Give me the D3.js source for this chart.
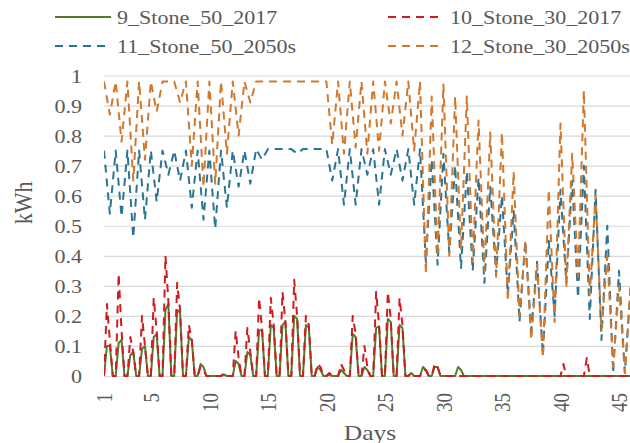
<!DOCTYPE html>
<html>
<head>
<meta charset="utf-8">
<script src="https://cdn.jsdelivr.net/npm/d3@7"></script>
<style>
  html, body { margin: 0; padding: 0; background: #fff; }
  svg text { font-family: "Liberation Serif", "Times New Roman", serif; fill: #595959; }
</style>
</head>
<body>
<div id="chart"></div>
<script>
// Tick labels
const xTickDays = [1, 5, 10, 15, 20, 25, 30, 35, 40, 45];
const yTickValues = [0, 0.1, 0.2, 0.3, 0.4, 0.5, 0.6, 0.7, 0.8, 0.9, 1];
const seriesNames = ["9_Stone_50_2017", "10_Stone_30_2017", "11_Stone_50_2050s", "12_Stone_30_2050s"];

// 2017 series: 4 readings per day (00h, 06h, 12h, 18h)
const stone50_2017 = [
  0, .10, .10, 0,   0, .11, .12, 0,   0, .07, .08, 0,   0, .09, .10, 0,   0, .13, .14, 0,
  0, .22, .24, 0,   0, .22, .21, 0,   0, .13, .12, 0,   0, .04, .03, 0,   0, 0, 0, 0,
  0, .005, 0, 0,    0, .05, .04, 0,   0, .08, .07, 0,   0, .15, .155, 0,  0, .17, .16, 0,
  0, .17, .18, 0,   0, .20, .19, 0,   0, .17, .16, 0,   0, .03, .02, 0,   0, .005, 0, 0,
  0, .02, .01, 0,   0, .14, .13, 0,   0, .03, .02, 0,   0, .16, .165, 0,  0, .19, .18, 0,
  0, .17, .16, 0,   0, .01, 0, 0,     0, .03, .02, 0,   0, .03, .03, 0,   0, 0, 0, 0,
  0, .03, .02, 0,   0, 0, 0, 0,       0, 0, 0, 0,       0, 0, 0, 0,       0, 0, 0, 0,
  0, 0, 0, 0,       0, 0, 0, 0,       0, 0, 0, 0,       0, 0, 0, 0,       0, 0, 0, 0,
  0, 0, 0, 0,       0, 0, 0, 0,       0, 0, 0, 0,       0, 0, 0, 0,       0, 0, 0, 0,
  0
];
const stone30_2017 = [
  0, .24, .12, 0,   0, .34, .15, 0,   0, .13, .08, 0,   0, .20, .10, 0,   0, .26, .15, 0,
  0, .40, .25, 0,   0, .31, .22, 0,   0, .17, .12, 0,   0, .03, .02, 0,   0, 0, 0, 0,
  0, .01, 0, 0,     0, .15, .06, 0,   0, .16, .08, 0,   0, .26, .16, 0,   0, .26, .17, 0,
  0, .28, .18, 0,   0, .32, .20, 0,   0, .20, .17, 0,   0, .04, .03, 0,   0, .01, 0, 0,
  0, .04, .02, 0,   0, .20, .14, 0,   0, .10, .03, 0,   0, .28, .17, 0,   0, .28, .19, 0,
  0, .26, .17, 0,   0, .01, 0, 0,     0, .02, .02, 0,   0, .04, .03, 0,   0, 0, 0, 0,
  0, 0, 0, 0,       0, 0, 0, 0,       0, 0, 0, 0,       0, 0, 0, 0,       0, 0, 0, 0,
  0, 0, 0, 0,       0, 0, 0, 0,       0, 0, 0, 0,       0, 0, 0, 0,       0, .04, 0, 0,
  0, 0, 0, 0,       0, .06, 0, 0,     0, 0, 0, 0,       0, 0, 0, 0,       0, 0, 0, 0,
  0
];

// 2050s series: 2 readings per day (night high, midday low)
const stone50_2050s = [
  .75, .54,   .75, .53,   .75, .46,   .75, .52,   .75, .58,
  .75, .67,   .75, .65,   .75, .56,   .75, .52,   .75, .49,
  .75, .56,   .75, .63,   .75, .64,   .755, .72,  .755, .755,
  .755, .755, .755, .74,  .755, .755, .755, .755, .755, .65,
  .755, .57,  .755, .57,  .755, .67,  .755, .57,  .755, .67,
  .755, .65,  .755, .57,  .755, .38,  .72, .37,   .74, .41,
  .70, .36,   .68, .35,   .66, .31,   .63, .34,   .60, .27,
  .55, .18,   .45, .15,   .38, .07,   .45, .20,   .62, .31,
  .65, .26,   .70, .19,   .62, .12,   .50, .01,   .35, .01,
  .30
];
const stone30_2050s = [
  .98, .87,   .98, .78,   .98, .65,   .98, .72,   .98, .88,
  .98, .98,   .98, .91,   .98, .70,   .98, .63,   .98, .64,
  .98, .74,   .98, .80,   .98, .91,   .98, .98,   .98, .98,
  .98, .98,   .98, .98,   .98, .98,   .98, .98,   .98, .77,
  .98, .74,   .98, .76,   .98, .74,   .98, .75,   .98, .84,
  .98, .80,   .98, .75,   .98, .34,   .93, .40,   .97, .40,
  .93, .42,   .93, .38,   .85, .35,   .81, .33,   .81, .25,
  .68, .20,   .45, .12,   .37, .06,   .62, .18,   .84, .30,
  .74, .33,   .95, .27,   .60, .15,   .40, .03,   .30, .01,
  .30
];

const colors = ["#557a2c", "#d01b1f", "#2b7494", "#d2782c"];
const dashes = [null, "8,6", "8,6", "8,6"];

const W = 630, H = 443;
const plot = { left: 104, right: 630, top: 75.5, bottom: 376 };
const stretch = 1.16; // the source text is drawn wide

const svg = d3.select("#chart").append("svg")
  .attr("width", W).attr("height", H);

const x = d3.scaleLinear().domain([1, 45]).range([plot.left, 619]);
const y = d3.scaleLinear().domain([0, 1]).range([plot.bottom, plot.top]);

// gridlines + y labels
const yAxis = d3.axisLeft(y).tickValues(yTickValues).tickSize(-(plot.right - plot.left))
  .tickFormat(d => d === 0 || d === 1 ? d3.format("d")(d) : d3.format(".1f")(d));
const gy = svg.append("g").attr("transform", `translate(${plot.left},0)`).call(yAxis);
gy.select(".domain").remove();
gy.selectAll(".tick line").attr("stroke", "#d9d9d9").attr("stroke-width", 1.2);
gy.selectAll(".tick text")
  .attr("font-size", 19).attr("fill", "#595959")
  .attr("x", 0).attr("dy", "0.35em")
  .attr("transform", `translate(-22,0) scale(${stretch},1)`);

// x labels (rotated)
const gx = svg.append("g").attr("transform", `translate(0,${plot.bottom})`)
  .call(d3.axisBottom(x).tickValues(xTickDays).tickSize(0));
gx.select(".domain").remove();
gx.selectAll(".tick text")
  .attr("font-size", 19).attr("fill", "#595959")
  .attr("text-anchor", "end")
  .attr("dy", "0.35em")
  .attr("transform", `translate(0,17) rotate(-90) scale(1,${stretch})`)
  .attr("x", 0).attr("y", 0);

svg.append("defs").append("clipPath").attr("id", "clip")
  .append("rect").attr("x", plot.left).attr("y", 0)
  .attr("width", plot.right - plot.left).attr("height", H);

// series
const allSeries = [
  { values: stone50_2017, perDay: 4 },
  { values: stone30_2017, perDay: 4 },
  { values: stone50_2050s, perDay: 2 },
  { values: stone30_2050s, perDay: 2 }
];
const line = d3.line().x(d => x(d.day)).y(d => y(d.v));
const lines = svg.append("g").attr("clip-path", "url(#clip)");
allSeries.forEach((s, k) => {
  const pts = s.values.map((v, i) => ({ day: 1 + i / s.perDay, v }));
  lines.append("path").datum(pts)
    .attr("d", line)
    .attr("fill", "none")
    .attr("stroke", colors[k])
    .attr("stroke-width", 2)
    .attr("stroke-dasharray", dashes[k])
    .attr("stroke-linejoin", "round");
});

// legend
const legendPos = [[55, 17], [388, 17], [55, 46], [388, 46]];
seriesNames.forEach((name, k) => {
  const [lx, ly] = legendPos[k];
  const g = svg.append("g").attr("transform", `translate(${lx},${ly})`);
  g.append("line").attr("x1", 0).attr("x2", 56).attr("y1", 0).attr("y2", 0)
    .attr("stroke", colors[k]).attr("stroke-width", 2)
    .attr("stroke-dasharray", dashes[k]);
  g.append("text").attr("transform", `translate(62,0) scale(${stretch},1)`)
    .attr("dy", "0.35em").attr("font-size", 19).text(name);
});

// axis titles
svg.append("text").attr("transform", `translate(23,203) rotate(-90) scale(1,${stretch})`)
  .attr("text-anchor", "middle").attr("dy", "0.35em").attr("font-size", 22).text("kWh");
svg.append("text").attr("transform", `translate(370,432) scale(${stretch},1)`)
  .attr("text-anchor", "middle").attr("dy", "0.35em").attr("font-size", 22).text("Days");
</script>
</body>
</html>
